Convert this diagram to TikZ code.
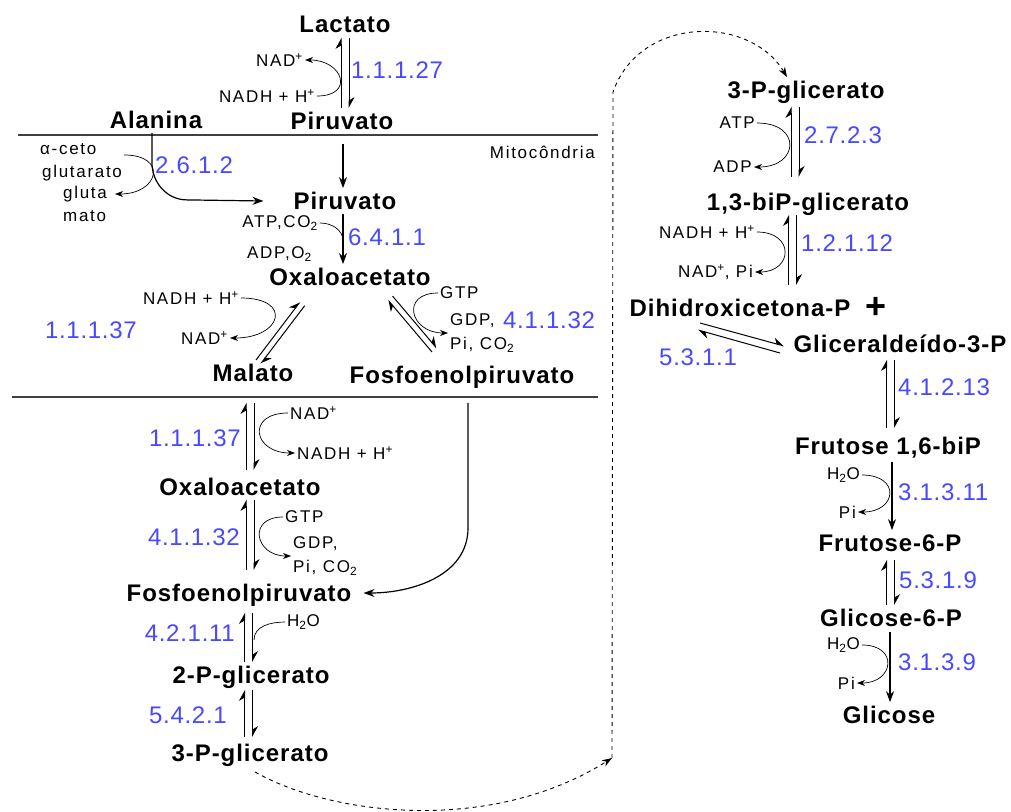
\documentclass[tikz,border=0pt]{standalone}
\usepackage{fontspec}
\setmainfont{Liberation Sans}
\newfontfamily\metfont[LetterSpace=4]{Liberation Sans}
\newfontfamily\cofont[LetterSpace=10]{Liberation Sans}
\newfontfamily\ecfont[LetterSpace=3]{Liberation Sans}
\usetikzlibrary{arrows.meta}
\definecolor{ecblue}{RGB}{72,72,255}

\begin{document}
\begin{tikzpicture}
  [x=1pt,y=1pt
  ,met/.style={font=\fontsize{24}{24}\metfont\bfseries, text height=19pt, text depth=2.4pt, inner sep=2pt}
  ,cof/.style={font=\fontsize{17}{24}\cofont, inner sep=2pt, align=left}
  ,ec/.style={font=\fontsize{24}{24}\ecfont, text=ecblue, inner sep=1pt}
  ,arr/.style={line width=1.2pt, -{Stealth[length=11pt,width=8pt]}}
  ,harp/.style={line width=1pt, -{Stealth[harpoon,length=10pt,width=11pt]}}
  ,cofarr/.style={line width=.7pt, -{Stealth[length=8pt,width=6pt]}}
  ,memb/.style={line width=1.6pt, color=black!75}
  ,dashy/.style={line width=.9pt, dash pattern=on 4pt off 4pt}
  ]
  \path[use as bounding box, fill=white] (0,0) rectangle (1011,-811);

  % membrane
  \draw[memb] (18,-135) -- (598,-135);
  \draw[memb] (12,-397) -- (598,-397);
  \node[cof, anchor=east] (mito) at (597,-152) {Mitocôndria};

  % metabolites
  \node[met] (lac) at (345,-24) {Lactato};
  \node[met] (pirA) at (342,-121) {Piruvato};
  \node[met] (ala) at (156,-120) {Alanina};
  \node[met] (pirB) at (345,-201) {Piruvato};
  \node[met] (oaaM) at (350,-277) {Oxaloacetato};
  \node[met] (mal) at (253,-373) {Malato};
  \node[met] (pepM) at (462,-375) {Fosfoenolpiruvato};
  \node[met] (oaaC) at (240,-487) {Oxaloacetato};
  \node[met] (pepC) at (239,-593) {Fosfoenolpiruvato};
  \node[met] (pgl2) at (251,-675) {2-P-glicerato};
  \node[met] (pgl3a) at (250,-753) {3-P-glicerato};
  \node[met] (pgl3b) at (806,-90) {3-P-glicerato};
  \node[met] (bpg) at (808,-202) {1,3-biP-glicerato};
  \node[met] (dhap) at (740,-308) {Dihidroxicetona-P};
  \node[font=\fontsize{36}{36}\bfseries] (plus) at (876,-308) {+};
  \node[met] (gap) at (900,-344) {Gliceraldeído-3-P};
  \node[met] (fbp) at (888,-446) {Frutose 1,6-biP};
  \node[met] (f6p) at (890,-543) {Frutose-6-P};
  \node[met] (g6p) at (891,-618) {Glicose-6-P};
  \node[met] (glc) at (889,-715) {Glicose};

  % cofactors
  \node[cof, anchor=east] (nad1) at (305,-60) {NAD\textsuperscript{+}};
  \node[cof, anchor=east] (nadh1) at (317,-96) {NADH + H\textsuperscript{+}};
  \node[cof, anchor=west] (ceto) at (38,-149) {α-ceto};
  \node[cof, anchor=west] (glut) at (40,-173) {glutarato};
  \node[cof, anchor=west] (gluta) at (61,-194) {gluta};
  \node[cof, anchor=west] (mato) at (61,-216) {mato};
  \node[cof, anchor=east] (atp1) at (320,-223) {ATP,CO\textsubscript{2}};
  \node[cof, anchor=east] (adp1) at (314,-254) {ADP,O\textsubscript{2}};
  \node[cof, anchor=east] (nadh2) at (241,-298) {NADH + H\textsuperscript{+}};
  \node[cof, anchor=east] (nad2) at (230,-338) {NAD\textsuperscript{+}};
  \node[cof, anchor=west] (gtp1) at (438,-293) {GTP};
  \node[cof, anchor=west] (gdp1) at (448,-333) {GDP,\\Pi, CO\textsubscript{2}};
  \node[cof, anchor=west] (nad3) at (288,-413) {NAD\textsuperscript{+}};
  \node[cof, anchor=west] (nadh3) at (295,-453) {NADH + H\textsuperscript{+}};
  \node[cof, anchor=west] (gtp2) at (283,-517) {GTP};
  \node[cof, anchor=west] (gdp2) at (291,-556) {GDP,\\Pi, CO\textsubscript{2}};
  \node[cof, anchor=west] (h2o1) at (285,-622) {H\textsubscript{2}O};
  \node[cof, anchor=east] (atp2) at (757,-123) {ATP};
  \node[cof, anchor=east] (adp2) at (754,-167) {ADP};
  \node[cof, anchor=east] (nadh4) at (757,-232) {NADH + H\textsuperscript{+}};
  \node[cof, anchor=east] (nadp) at (755,-272) {NAD\textsuperscript{+}, Pi};
  \node[cof, anchor=east] (h2o2) at (862,-475) {H\textsubscript{2}O};
  \node[cof, anchor=east] (pi1) at (858,-512) {Pi};
  \node[cof, anchor=east] (h2o3) at (862,-645) {H\textsubscript{2}O};
  \node[cof, anchor=east] (pi2) at (857,-683) {Pi};

  % enzymes
  \node[ec, anchor=west] (ec1) at (350,-70) {1.1.1.27};
  \node[ec, anchor=west] (ec2) at (154,-165) {2.6.1.2};
  \node[ec, anchor=west] (ec3) at (347,-237) {6.4.1.1};
  \node[ec, anchor=east] (ec4) at (138,-330) {1.1.1.37};
  \node[ec, anchor=west] (ec5) at (502,-320) {4.1.1.32};
  \node[ec, anchor=east] (ec6) at (242,-438) {1.1.1.37};
  \node[ec, anchor=east] (ec7) at (241,-537) {4.1.1.32};
  \node[ec, anchor=east] (ec8) at (236,-633) {4.2.1.11};
  \node[ec, anchor=east] (ec9) at (228,-715) {5.4.2.1};
  \node[ec, anchor=west] (ec10) at (803,-135) {2.7.2.3};
  \node[ec, anchor=west] (ec11) at (800,-243) {1.2.1.12};
  \node[ec, anchor=west] (ec12) at (658,-357) {5.3.1.1};
  \node[ec, anchor=west] (ec13) at (897,-387) {4.1.2.13};
  \node[ec, anchor=west] (ec14) at (897,-492) {3.1.3.11};
  \node[ec, anchor=west] (ec15) at (898,-580) {5.3.1.9};
  \node[ec, anchor=west] (ec16) at (897,-662) {3.1.3.9};

  % reversible steps
  \foreach \a/\b/\d/\s/\e in {lac/pirA/0/1/0, mal/oaaC/-3/17/4, oaaC/pepC/10/0/10,
      pepC/pgl2/9.5/7/0, pgl2/pgl3a/-2.5/2/3, pgl3b/bpg/-11/4/12, bpg/dhap/-15.5/0/10,
      gap/fbp/-9.5/3/5, f6p/g6p/0.5/4/0}{
    \draw[harp, shorten <=\e pt, shorten >=\s pt] ([xshift={\d-4}]\a.south |- \b.north) -- ([xshift={\d-4}]\a.south);
    \draw[harp, shorten <=\s pt, shorten >=\e pt] ([xshift={\d+4}]\a.south) -- ([xshift={\d+4}]\a.south |- \b.north);
  }
  \draw[harp] ([shift={(3,13)}]mal.center) -- ([shift={(-50,-25)}]oaaM.center);
  \draw[harp] ([shift={(-45.3,-28.7)}]oaaM.center) -- ([shift={(7.7,9.3)}]mal.center);
  \draw[harp] ([shift={(-30,23)}]pepM.center) -- ([shift={(38,-23)}]oaaM.center);
  \draw[harp] ([shift={(42.6,-19.1)}]oaaM.center) -- ([shift={(-25.4,26.9)}]pepM.center);
  \draw[harp] ([shift={(-40,-15)}]dhap.center) -- ([shift={(-116,-2)}]gap.center);
  \draw[harp] ([shift={(-120,-9)}]gap.center) -- ([shift={(-42,-22)}]dhap.center);

  % irreversible steps
  \foreach \a/\b/\d/\s in {pirA/pirB/1/10, pirB/oaaM/-2/0, fbp/f6p/4/3, g6p/glc/-1/1}{
    \draw[arr, shorten <=\s pt] ([xshift=\d pt]\a.south) -- ([xshift=\d pt]\a.south |- \b.north);
  }
  \draw[arr] ([xshift=-4pt]ala.south) -- ++(0,-30) to[out=-90,in=180] ++(35,-37) -- ([xshift=-28pt]pirB.west);
  \draw[arr, shorten <=15pt] ([xshift=6pt]pepM.south) -- ++(0,-140) to[out=-90,in=0] ([xshift=10pt]pepC.east);

  % cofactor arcs
  \draw[cofarr] (nadh1.east) .. controls +(38,0) and +(38,0) .. (nad1.east);
  \draw[cofarr] ([yshift=18pt]glut.east) .. controls +(44,0) and +(44,0) .. ([xshift=6pt]gluta.east);
  \draw[line width=.7pt] (atp1.east) to[out=0,in=90] ([shift={(-2,-27)}]pirB.south);
  \draw[cofarr] (nadh2.east) .. controls +(52,0) and +(52,0) .. (nad2.east);
  \draw[cofarr] (gtp1.west) .. controls +(-38,0) and +(-38,0) .. (gdp1.west);
  \draw[cofarr] (nad3.west) .. controls +(-42,0) and +(-42,0) .. (nadh3.west);
  \draw[cofarr] (gtp2.west) .. controls +(-36,0) and +(-36,0) .. (gdp2.west);
  \draw[line width=.7pt] (h2o1.west) to[out=180,in=90] ([shift={(15,-34)}]pepC.south);
  \draw[cofarr] (atp2.east) .. controls +(45,0) and +(45,0) .. (adp2.east);
  \draw[cofarr] (nadh4.east) .. controls +(38,0) and +(38,0) .. (nadp.east);
  \draw[cofarr] (h2o2.east) .. controls +(39,0) and +(39,0) .. (pi1.east);
  \draw[cofarr] (h2o3.east) .. controls +(37,0) and +(37,0) .. (pi2.east);

  % cytosol transfer
  \coordinate (dturn) at (612,-758);
  \coordinate (dtop) at (613,-92);
  \draw[dashy, -{Stealth[length=10pt,width=7pt]}] ([shift={(5,-6)}]pgl3a.south) .. controls (330,-815) and (490,-835) .. (dturn);
  \draw[dashy, -{Stealth[length=10pt,width=7pt]}] (dturn) -- (dtop) .. controls (640,-15) and (750,-15) .. ([xshift=-19pt]pgl3b.north);
\end{tikzpicture}
\end{document}
